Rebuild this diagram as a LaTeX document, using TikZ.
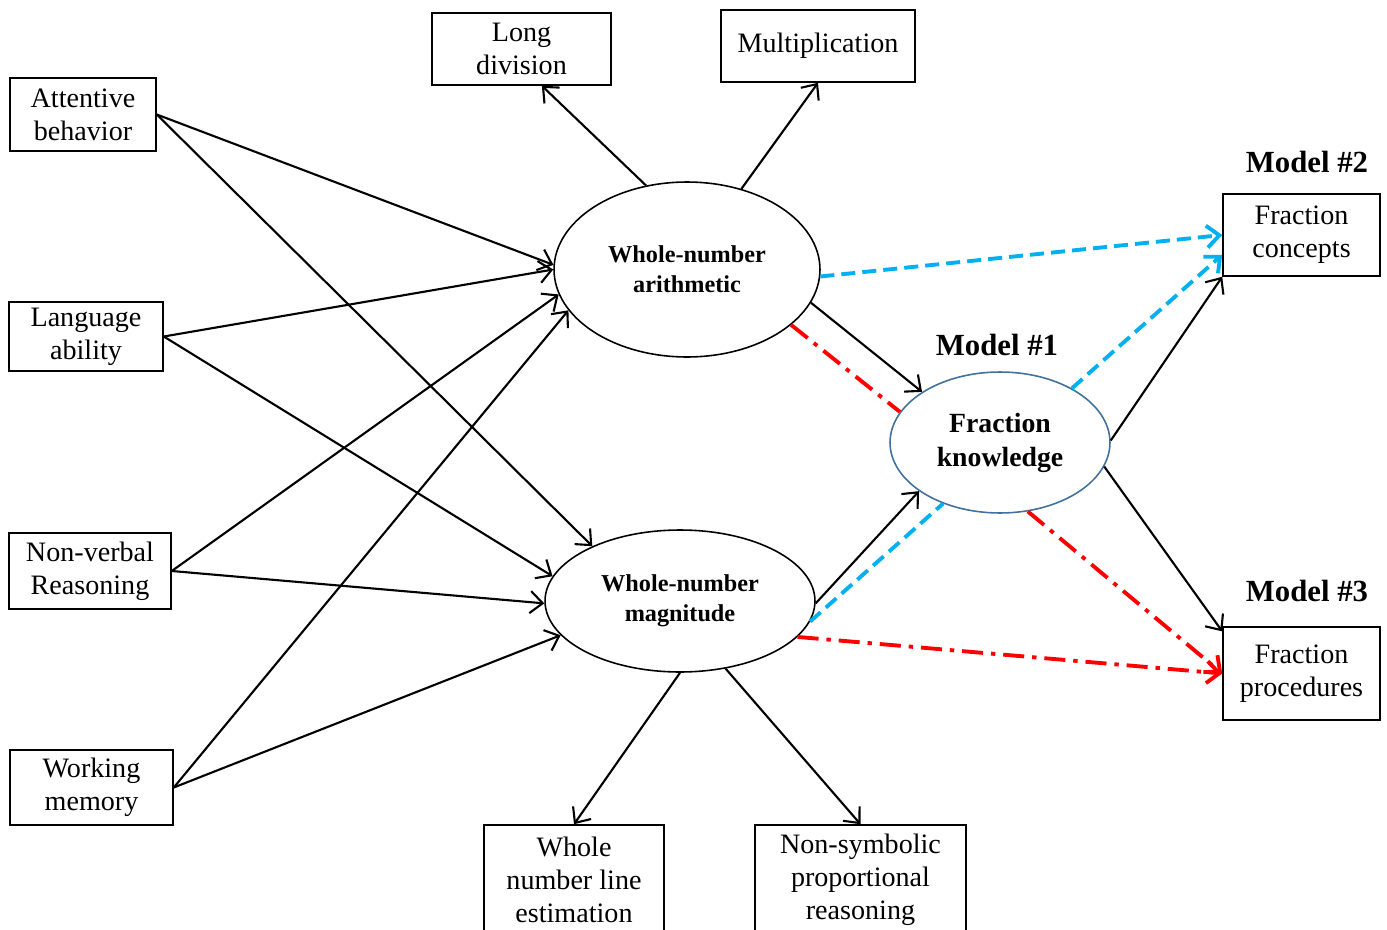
\documentclass[tikz,border=0pt]{standalone}
\usepackage{fontspec}
\setmainfont{Liberation Serif}
\usepackage{xcolor}
\usetikzlibrary{shapes.geometric,arrows.meta,calc}
\definecolor{skyblue}{HTML}{00B0F0}
\definecolor{pptred}{HTML}{FF0000}
\definecolor{rimblue}{HTML}{41719C}
\tikzstyle{every picture}=[->,>={Straight Barb[length=2.5mm,width=4.4mm]}]
\tikzstyle{measure}=[draw,rectangle,line width=0.9pt,inner sep=0pt,align=center,font=\fontsize{16}{18.7}\selectfont]
\tikzstyle{construct}=[draw,ellipse,line width=0.9pt,inner sep=0pt,align=center,font=\fontsize{13.8}{17}\selectfont\bfseries]
\tikzstyle{link}=[line width=1.2pt]
\tikzstyle{bluelink}=[line width=2.2pt,color=skyblue,dash pattern=on 8pt off 4pt]
\tikzstyle{redlink}=[line width=2.2pt,color=pptred,dash pattern=on 12pt off 4.5pt on 2.5pt off 4.5pt]
\tikzstyle{modellabel}=[font=\fontsize{17.5}{20}\selectfont\bfseries]

\begin{document}
\begin{tikzpicture}[x=0.02cm,y=-0.02cm]
    \fill[-,white] (0,0) rectangle (1387,930);
    \useasboundingbox (0,0) rectangle (1387,930);

    % Predictors
    \node[measure,minimum width=2.92cm,minimum height=1.46cm] (attn) at (83,114.5) {Attentive\\behavior};
    \node[measure,minimum width=3.08cm,minimum height=1.38cm] (lang) at (86,336.5) {Language\\ability};
    \node[measure,minimum width=3.24cm,minimum height=1.52cm] (nvr) at (90,571) {Non-verbal\\Reasoning};
    \node[measure,minimum width=3.26cm,minimum height=1.5cm] (wm) at (91.5,787.5) {Working\\memory};

    % Whole-number constructs
    \node[construct,minimum width=5.32cm,minimum height=3.5cm] (wna) at (687,269.5) {Whole-number\\arithmetic};
    \node[construct,minimum width=5.4cm,minimum height=2.84cm] (wnm) at (680,601) {Whole-number\\magnitude};

    % Indicators
    \node[measure,minimum width=3.58cm,minimum height=1.44cm] (ldiv) at (521.5,49) {Long\\division};
    \node[measure,minimum width=3.88cm,minimum height=1.44cm] (mult) at (818,46) {Multiplication};
    \node[measure,minimum width=3.6cm,minimum height=2.2cm] (nle) at (574,880) {Whole\\number line\\estimation};
    \node[measure,minimum width=4.22cm,minimum height=2.2cm] (nspr) at (860.5,880) {Non-symbolic\\proportional\\reasoning};

    % Fraction outcomes
    \node[draw=rimblue,ellipse,line width=0.9pt,inner sep=0pt,align=center,minimum width=4.4cm,minimum height=2.82cm,
        font=\fontsize{15.8}{19.3}\selectfont\bfseries] (fk) at (1000,442.5) {Fraction\\knowledge};
    \node[measure,minimum width=3.14cm,minimum height=1.64cm] (fc) at (1301.5,235) {Fraction\\concepts};
    \node[measure,minimum width=3.14cm,minimum height=1.86cm] (fp) at (1301.5,673.5) {Fraction\\procedures};

    \node[modellabel] (m1) at (997,345) {Model \#1};
    \node[modellabel] (m2) at (1307,162) {Model \#2};
    \node[modellabel] (m3) at (1307,591) {Model \#3};

    % Predictor paths
    \draw[link] (attn.east) -- (wna.178);
    \draw[link] (attn.east) -- (wnm.148);
    \draw[link] (lang.east) -- (wna.180);
    \draw[link] (lang.east) -- (wnm.169);
    \draw[link] (nvr.east) -- (wna.191);
    \draw[link] (nvr.east) -- (wnm.181);
    \draw[link] (wm.east) -- (wna.199);
    \draw[link] (wm.east) -- (wnm.196);

    % Indicator paths
    \draw[link] (wna.116) -- (ldiv.299);
    \draw[link] (wna.56) -- (mult.south);
    \draw[link] (wnm.270) -- (nle.north);
    \draw[link] (wnm.304) -- (nspr.north);

    % Model #1
    \draw[link] (wna.-15) -- (fk.147);
    \draw[link] (wnm.-1) -- (fk.211);
    \draw[link] (fk.1) -- (fc.south west);
    \draw[link] (fk.-13) -- (fp.152);

    % Model #2
    \draw[bluelink] (wna.-3) -- (fc.west);
    \draw[bluelink] (fk.37) -- (fc.194);
    \draw[bluelink,-] (wnm.-9) -- (fk.227);

    % Model #3
    \draw[redlink,-] (wna.-28) -- (fk.163);
    \draw[redlink] (fk.292) -- (fp.west);
    \draw[redlink] (wnm.-17) -- (fp.west);
\end{tikzpicture}
\end{document}
